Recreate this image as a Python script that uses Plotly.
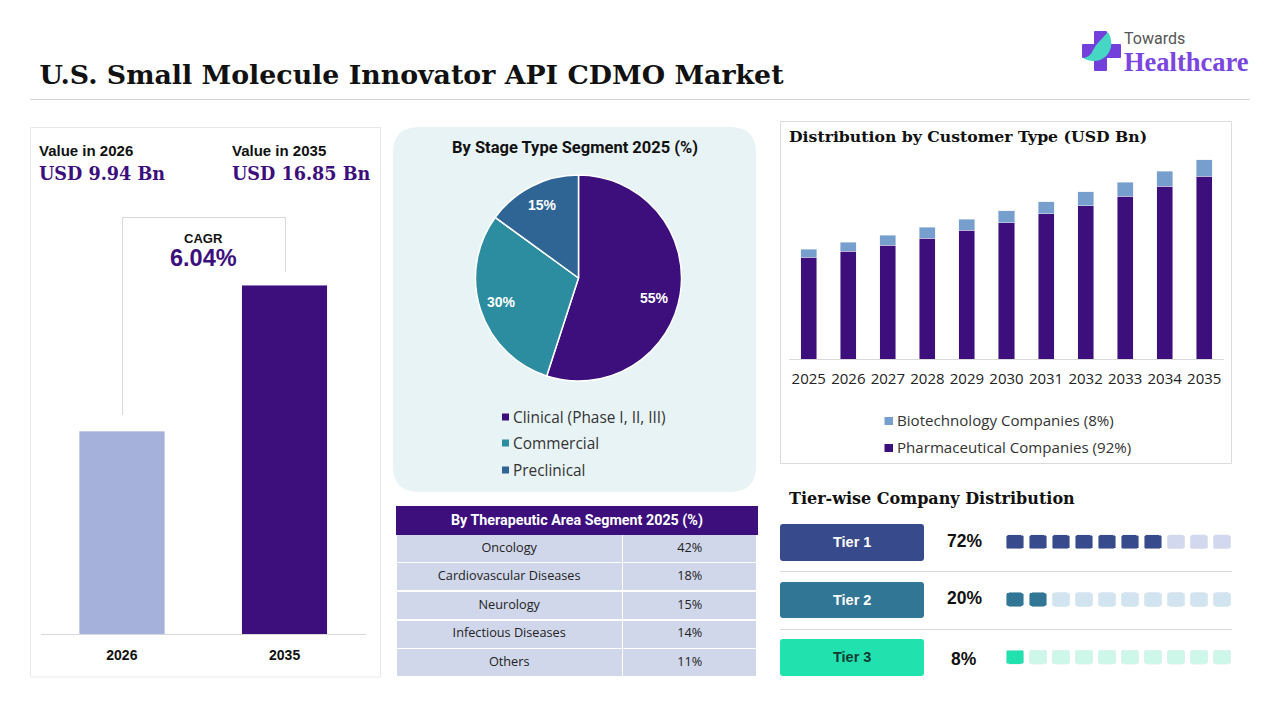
import plotly.graph_objects as go

W, H = 1280, 720
PURPLE = '#3C0F7D'
SANS = 'Open Sans, sans-serif'
HEAD = 'Roboto, sans-serif'
ARIAL = 'Liberation Sans, Arial, sans-serif'
SERIF = 'DejaVu Serif, serif'

# market size bars, heights as drawn in the picture
size_years = ['2026', '2035']
size_values = [9.8, 16.85]
size_colors = ['#A5B1DB', PURPLE]

# pie
stage_labels = ['Clinical (Phase I, II, III)', 'Commercial', 'Preclinical']
stage_values = [55, 30, 15]
stage_colors = [PURPLE, '#2C8CA0', '#2F6594']

# table
area_labels = ['Oncology', 'Cardiovascular Diseases', 'Neurology', 'Infectious Diseases', 'Others']
area_values = [42, 18, 15, 14, 11]

# stacked bars
years = ['2025', '2026', '2027', '2028', '2029', '2030', '2031', '2032', '2033', '2034', '2035']
pharma = [8.64, 9.15, 9.66, 10.25, 10.93, 11.53, 12.29, 12.97, 13.81, 14.66, 15.51]
biotech = [0.68, 0.76, 0.85, 0.93, 0.93, 1.02, 1.02, 1.19, 1.19, 1.27, 1.36]

# tiers
tier_names = ['Tier 1', 'Tier 2', 'Tier 3']
tier_shares = [72, 20, 8]
tier_filled = [7, 2, 1]
tier_dark = ['#374B8C', '#317795', '#21E2AE']
tier_light = ['#D2D8EE', '#D2E4EF', '#CDF7E9']


def px(x):
    return x / W


def py(y):
    return 1 - y / H


def rounded(x0, y0, x1, y1, r):
    # svg path in paper coords, given in pixels from the top left
    a, b, c, d = px(x0), px(x1), py(y0), py(y1)
    rx, ry = r / W, r / H
    return (f'M {a + rx} {c} L {b - rx} {c} Q {b} {c} {b} {c - ry} L {b} {d + ry} Q {b} {d} {b - rx} {d} '
            f'L {a + rx} {d} Q {a} {d} {a} {d + ry} L {a} {c - ry} Q {a} {c} {a + rx} {c} Z')


fig = go.Figure()
shapes = []
notes = []


def box(x0, y0, x1, y1, fill='rgba(0,0,0,0)', line=None, width=1):
    shapes.append(dict(type='rect', xref='paper', yref='paper', x0=px(x0), x1=px(x1), y0=py(y0), y1=py(y1),
                       fillcolor=fill, line=dict(color=line, width=width if line else 0), layer='below'))


def rule(x0, y0, x1, y1, color='#D9D9D9', width=1):
    shapes.append(dict(type='line', xref='paper', yref='paper', x0=px(x0), x1=px(x1), y0=py(y0), y1=py(y1),
                       line=dict(color=color, width=width), layer='below'))


def round_box(x0, y0, x1, y1, r, fill):
    shapes.append(dict(type='path', xref='paper', yref='paper', path=rounded(x0, y0, x1, y1, r),
                       fillcolor=fill, line=dict(width=0), layer='below'))


def label(x, y, text, size, color='#111111', family=SANS, bold=False, anchor='left'):
    notes.append(dict(xref='paper', yref='paper', x=px(x), y=py(y), text=f'<b>{text}</b>' if bold else text,
                      showarrow=False, xanchor=anchor, yanchor='middle', borderpad=0, borderwidth=0,
                      font=dict(size=size, color=color, family=family)))


# step 1. left panel with the two market values
fig.add_trace(go.Bar(x=size_years, y=size_values, marker_color=size_colors, width=0.525,
                     xaxis='x', yaxis='y', showlegend=False))

# step 2. stage pie
fig.add_trace(go.Pie(labels=stage_labels, values=stage_values, sort=False, direction='clockwise', rotation=0,
                     marker=dict(colors=stage_colors, line=dict(color='white', width=1.5)),
                     textinfo='none', showlegend=False,
                     domain=dict(x=[px(475.5), px(681.5)], y=[py(381), py(175)])))

# step 3. therapeutic area table
fig.add_trace(go.Table(
    domain=dict(x=[px(396), px(758)], y=[py(678), py(506)]),
    columnwidth=[227, 135],
    header=dict(values=['', ''], height=28, fill_color=PURPLE, line_color=PURPLE),
    cells=dict(values=[area_labels, [f'{v}%' for v in area_values]], height=28.6,
               fill_color='#D0D7EA', line=dict(color='white', width=1.5), align='center',
               font=dict(size=12.7, color='#222222', family=SANS))))

# step 4. customer type stacks
fig.add_trace(go.Bar(x=years, y=pharma, name='Pharmaceutical Companies (92%)', marker_color=PURPLE, width=0.405,
                     xaxis='x2', yaxis='y2', showlegend=False))
fig.add_trace(go.Bar(x=years, y=biotech, name='Biotechnology Companies (8%)', marker_color='#769FCD', width=0.405,
                     xaxis='x2', yaxis='y2', showlegend=False))

# step 5. tier squares
for name, filled, dark, light in zip(tier_names, tier_filled, tier_dark, tier_light):
    fig.add_trace(go.Bar(y=[name] * 10, x=[0.78] * 10, base=list(range(10)), orientation='h', width=0.243,
                         marker=dict(color=[dark] * filled + [light] * (10 - filled), cornerradius=3),
                         xaxis='x3', yaxis='y3', showlegend=False))

# panels and rules
rule(30, 99.5, 1250, 99.5, '#D4D4D4')
box(30.5, 127.5, 380.5, 677, line='#E8E8E8')
round_box(393, 127, 756, 492, 26, '#E8F3F6')
box(780.5, 121.5, 1231.5, 463.5, line='#DCDCDC')
rule(122.5, 217.5, 285.5, 217.5)
rule(122.5, 217.5, 122.5, 415)
rule(285.5, 217.5, 285.5, 272)
rule(780, 571.5, 1232, 571.5)
rule(780, 629.5, 1232, 629.5)

# logo
shapes.append(dict(type='path', xref='paper', yref='paper', fillcolor='#7340DC', line=dict(width=0), layer='below',
                   path=rounded(1094, 31, 1107, 71, 1)))
shapes.append(dict(type='path', xref='paper', yref='paper', fillcolor='#7340DC', line=dict(width=0), layer='below',
                   path=rounded(1082, 44, 1121, 58, 1)))
leaf = [(1108, 32), (1114, 42), (1112, 55), (1100, 60), (1094, 62), (1088, 61), (1083, 58), (1092, 57), (1092, 50), (1097, 44)]
leaf_pts = [f'{px(a)} {py(b)}' for a, b in leaf]
shapes.append(dict(type='path', xref='paper', yref='paper', fillcolor='#45D6C4', line=dict(width=0), layer='below',
                   path=f'M {leaf_pts[0]} C {leaf_pts[1]} {leaf_pts[2]} {leaf_pts[3]} C {leaf_pts[4]} {leaf_pts[5]} {leaf_pts[6]} '
                        f'C {leaf_pts[7]} {leaf_pts[8]} {leaf_pts[9]} Q {leaf_pts[9]} {leaf_pts[0]} Z'))
label(1124, 38, 'Towards', 16, '#555555', 'Roboto, sans-serif')
label(1124, 62, 'Healthcare', 26.5, '#7B45E0', 'Liberation Serif, serif', True)

# left panel text
label(39, 150, 'Value in 2026', 15, '#111111', ARIAL, True)
label(232, 150, 'Value in 2035', 15, '#111111', ARIAL, True)
label(39, 173, 'USD 9.94 Bn', 17.6, PURPLE, SERIF, True)
label(232, 173, 'USD 16.85 Bn', 17.6, PURPLE, SERIF, True)
label(203, 238.5, 'CAGR', 13, '#111111', ARIAL, True, 'center')
label(203, 258, '6.04%', 23.5, PURPLE, ARIAL, True, 'center')

# pie text and hand made legend
label(575, 148, 'By Stage Type Segment 2025 (%)', 16.5, '#111111', HEAD, True, 'center')
for (x, y), v in zip([(654, 298), (501, 302), (542, 205)], stage_values):
    label(x, y, f'{v}%', 14, 'white', ARIAL, True, 'center')
for y, name, color in zip([417, 443, 470], stage_labels, stage_colors):
    box(502, y - 3.5, 509, y + 3.5, color)
    label(513, y, name, 15.4, '#333333')

# table title
label(577, 520, 'By Therapeutic Area Segment 2025 (%)', 14.3, 'white', HEAD, True, 'center')

# stacked chart text
label(789, 136, 'Distribution by Customer Type (USD Bn)', 15.7, '#111111', SERIF, True)
for y, name, color in [(421, 'Biotechnology Companies (8%)', '#769FCD'), (448, 'Pharmaceutical Companies (92%)', PURPLE)]:
    box(884.5, y - 4, 893, y + 4, color)
    label(897, y - 1, name, 15.1, '#333333')

# tiers text
label(789, 498, 'Tier-wise Company Distribution', 16, '#111111', SERIF, True)
for y0, y1, name, share, dark, pct_y in zip([524, 582, 639], [561, 618, 676], tier_names, tier_shares, tier_dark, [541, 598, 659]):
    round_box(780, y0, 924, y1, 3, dark)
    label(852, (y0 + y1) / 2 - 0.5, name, 14.5, '#123B33' if name == 'Tier 3' else 'white', ARIAL, True, 'center')
    label(964, pct_y, f'{share}%', 17.5, '#111111', ARIAL, True, 'center')

fig.update_layout(
    width=W, height=H, margin=dict(l=0, r=0, t=0, b=0), paper_bgcolor='white', plot_bgcolor='rgba(0,0,0,0)',
    barmode='stack', showlegend=False, shapes=shapes, annotations=notes,
    title=dict(text='<b>U.S. Small Molecule Innovator API CDMO Market</b>', x=px(39.5), xanchor='left',
               y=py(75), yanchor='middle', font=dict(size=26.8, color='#111111', family=SERIF)),
    xaxis=dict(domain=[px(40.5), px(366)], showline=True, linecolor='#D9D9D9', ticks='outside', ticklen=8,
               tickcolor='rgba(0,0,0,0)', tickfont=dict(size=14, color='#111111', family='Liberation Sans, Arial'),
               tickprefix='<b>', ticksuffix='</b>', type='category', fixedrange=True),
    yaxis=dict(domain=[py(634), py(275)], range=[0, 17.34], visible=False, fixedrange=True),
    xaxis2=dict(domain=[px(789), px(1224)], showline=True, linecolor='#D9D9D9', ticks='outside', ticklen=6,
                tickcolor='rgba(0,0,0,0)', tickfont=dict(size=15, color='#222222', family=SANS),
                type='category', anchor='y2', fixedrange=True),
    yaxis2=dict(domain=[py(359), py(155)], range=[0, 17.29], visible=False, anchor='x2', fixedrange=True),
    xaxis3=dict(domain=[px(1006), px(1236)], range=[0, 10], visible=False, anchor='y3', fixedrange=True),
    yaxis3=dict(domain=[py(686), py(513)], type='category', categoryorder='array', categoryarray=tier_names[::-1],
                visible=False, anchor='x3', fixedrange=True),
)

fig.write_html('out.html', post_script="document.body.style.margin='0';document.body.style.overflow='hidden';",
               config={'displayModeBar': False})
